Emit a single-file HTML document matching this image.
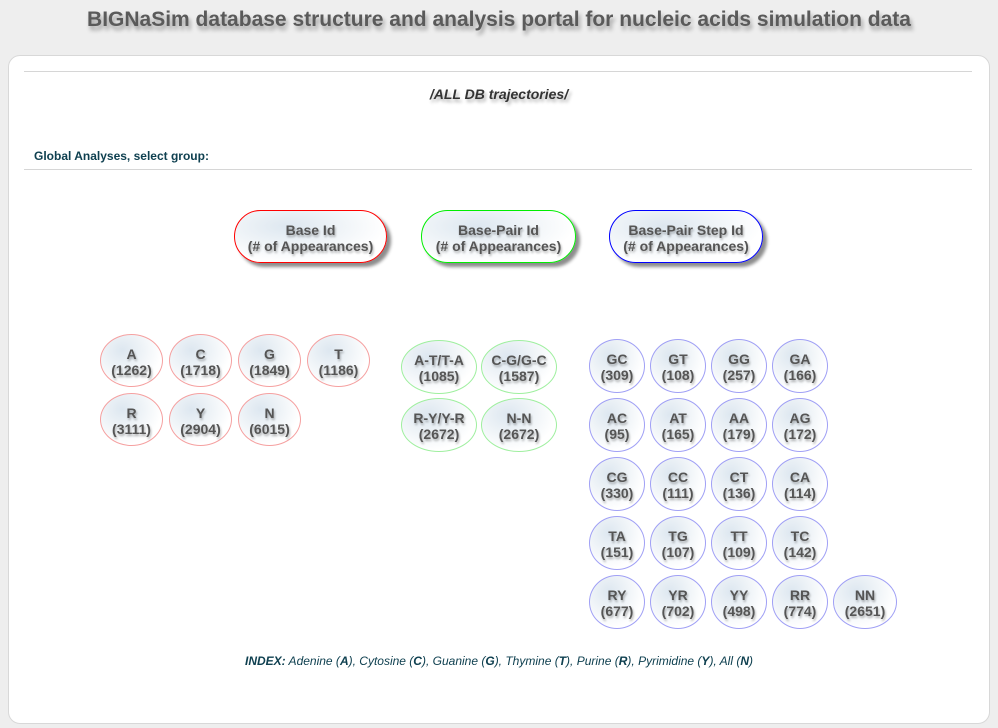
<!DOCTYPE html>
<html><head><meta charset="utf-8"><style>
body{margin:0;width:998px;height:728px;background:#eeeeee;position:relative;overflow:hidden;font-family:"Liberation Sans",sans-serif;}
.abs{position:absolute;}
#title{left:0;width:998px;top:8px;text-align:center;font-size:21px;font-weight:bold;color:#5a5a5a;text-shadow:2px 4px 4px rgba(0,0,0,0.35);}
#panel{left:8px;top:55px;width:980px;height:667px;background:#fff;border:1px solid #d8d8d8;border-radius:12px;}
.hr{left:24px;width:948px;height:1px;background:#d6d6d6;}
#sub{left:0;width:998px;top:86px;text-align:center;font-size:14px;font-weight:bold;font-style:italic;color:#333;text-shadow:2px 3px 3px rgba(0,0,0,0.3);}
#sel{left:34px;top:149px;font-size:12px;font-weight:bold;color:#0f4050;}
.btn{position:absolute;box-sizing:border-box;display:flex;align-items:center;justify-content:center;text-align:center;font-family:"Liberation Sans",sans-serif;font-weight:bold;color:#555;text-shadow:1px 2px 2px rgba(0,0,0,0.3);background:radial-gradient(ellipse at 35% 30%,#dde7f0 0%,#eef3f7 35%,#fff 70%);line-height:16px;cursor:pointer;}
.big{height:53px;border-radius:27px;border-width:1px;border-style:solid;font-size:14px;box-shadow:4px 4px 3px rgba(0,0,0,0.45);padding-top:2px;}
.sm{border-radius:50%;font-size:14px;border-width:1px;border-style:solid;padding-top:2px;}
.r{border-color:#f5a0a0;}.g{border-color:#9fef9f;}.b{border-color:#a0a0f5;}
#idx{left:0;width:998px;top:654px;text-align:center;font-size:12px;font-style:italic;color:#0f4050;}
</style></head><body>
<div id="title" class="abs">BIGNaSim database structure and analysis portal for nucleic acids simulation data</div>
<div id="panel" class="abs"></div>
<div class="abs hr" style="top:71px"></div>
<div id="sub" class="abs">/ALL DB trajectories/</div>
<div id="sel" class="abs">Global Analyses, select group:</div>
<div class="abs hr" style="top:169px"></div>

<div class="btn big" style="left:234px;top:210px;width:153px;border-color:#f00">Base Id<br>(# of Appearances)</div>
<div class="btn big" style="left:421px;top:210px;width:155px;border-color:#0e0">Base-Pair Id<br>(# of Appearances)</div>
<div class="btn big" style="left:609px;top:210px;width:154px;border-color:#00f">Base-Pair Step Id<br>(# of Appearances)</div>

<div id="btns"></div>
<div id="idx" class="abs"><b>INDEX:</b> Adenine (<b>A</b>), Cytosine (<b>C</b>), Guanine (<b>G</b>), Thymine (<b>T</b>), Purine (<b>R</b>), Pyrimidine (<b>Y</b>), All (<b>N</b>)</div>
<script>
const baseLabels=["A","C","G","T","R","Y","N"];
const baseCounts=[1262,1718,1849,1186,3111,2904,6015];
const pairLabels=["A-T/T-A","C-G/G-C","R-Y/Y-R","N-N"];
const pairCounts=[1085,1587,2672,2672];
const stepLabels=["GC","GT","GG","GA","AC","AT","AA","AG","CG","CC","CT","CA","TA","TG","TT","TC","RY","YR","YY","RR","NN"];
const stepCounts=[309,108,257,166,95,165,179,172,330,111,136,114,151,107,109,142,677,702,498,774,2651];
const c=document.getElementById('btns');
function mk(label,count,x,y,w,h,cls,name){
  const d=document.createElement('div');
  d.className='btn sm '+cls;
  d.style.left=x+'px';d.style.top=y+'px';d.style.width=w+'px';d.style.height=h+'px';
  d.innerHTML=label+'<br>('+count+')';
  
  
  c.appendChild(d);
}
baseLabels.forEach((l,i)=>{
  const col=i%4,row=Math.floor(i/4);
  mk(l,baseCounts[i],100+col*69,334+row*59,63,53,'r','base-'+l.toLowerCase()+'-button');
});
pairLabels.forEach((l,i)=>{
  const col=i%2,row=Math.floor(i/2);
  mk(l,pairCounts[i],401+col*80,340+row*58,76,54,'g','pair-button-'+i);
});
stepLabels.forEach((l,i)=>{
  let col=i%4,row=Math.floor(i/4);
  let x,w=56;
  if(i===20){row=4;x=833;w=64;}else{x=589+col*61;}
  mk(l,stepCounts[i],x,339+row*59,w,54,'b','step-'+l.toLowerCase()+'-button');
});
</script>
</body></html>
